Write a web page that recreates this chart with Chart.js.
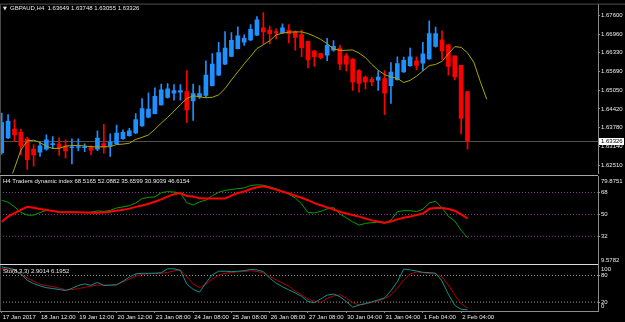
<!DOCTYPE html>
<html>
<head>
<meta charset="utf-8">
<script src="https://cdn.jsdelivr.net/npm/chart.js@4.4.1/dist/chart.umd.min.js"></script>
<style>
  html, body { margin: 0; padding: 0; background: #000; overflow: hidden; }
  #wrap { position: relative; width: 625px; height: 322px; background: #000; }
  canvas { position: absolute; left: 0; }
</style>
</head>
<body>
<div id="wrap">
  <canvas id="priceChart" width="625" height="178" style="top:0px"></canvas>
  <canvas id="tdiChart" width="625" height="100" style="top:170px"></canvas>
  <canvas id="stoChart" width="625" height="63" style="top:259px"></canvas>
</div>
<script>
// ---- data ----
const priceTitle = 'GBPAUD,H4  1.63649 1.63748 1.63055 1.63326';
const tdiTitle = 'H4 Traders dynamic index 68.5165 52.0882 35.6599 30.9039 46.6154';
const stoTitle = 'Sto(8,3,3) 2.9014 6.1952';

const timeLabels = ['17 Jan 2017', '18 Jan 12:00', '19 Jan 12:00', '20 Jan 12:00', '23 Jan 08:00',
  '24 Jan 08:00', '25 Jan 08:00', '26 Jan 08:00', '27 Jan 08:00', '30 Jan 04:00',
  '31 Jan 04:00', '1 Feb 04:00', '2 Feb 04:00'];
const timeLabelBars = [0, 6, 12, 18, 24, 30, 36, 42, 48, 54, 60, 66, 72];

const priceTicks = [1.676, 1.6696, 1.6633, 1.6569, 1.6505, 1.6442, 1.6378, 1.6314, 1.6251];

const open = [1.62937, 1.63438, 1.63733, 1.63625, 1.63405, 1.63055, 1.62947, 1.63055, 1.63209, 1.63232,
  1.63166, 1.63101, 1.63110, 1.63101, 1.63120, 1.63055, 1.63242, 1.63166, 1.63242, 1.63405,
  1.63514, 1.63602, 1.63841, 1.64136, 1.64257, 1.64552, 1.64805, 1.64955, 1.64988, 1.65011,
  1.64693, 1.64824, 1.64880, 1.65208, 1.65568, 1.65939, 1.66201, 1.66463, 1.66682, 1.66758,
  1.66922, 1.67174, 1.67099, 1.67043, 1.67010, 1.67099, 1.67033, 1.66945, 1.66715, 1.66378,
  1.66299, 1.66247, 1.66410, 1.66486, 1.66224, 1.66102, 1.65722, 1.65503, 1.65421, 1.65395,
  1.65447, 1.65208, 1.65414, 1.65676, 1.65886, 1.66050, 1.65971, 1.66116, 1.66542, 1.66758,
  1.66594, 1.66224, 1.65896, 1.65011];
const high = [1.64280, 1.64225, 1.64061, 1.63733, 1.63461, 1.63209, 1.63297, 1.63537, 1.63481, 1.63438,
  1.63373, 1.63405, 1.63405, 1.63232, 1.63166, 1.63677, 1.63897, 1.63569, 1.63874, 1.63710,
  1.63756, 1.64257, 1.64772, 1.64968, 1.65132, 1.65263, 1.65283, 1.65241, 1.65241, 1.65722,
  1.65263, 1.65208, 1.66050, 1.66299, 1.66682, 1.67043, 1.67010, 1.67207, 1.66935, 1.67282,
  1.67557, 1.67688, 1.67230, 1.67141, 1.67305, 1.67282, 1.67066, 1.67099, 1.66715, 1.66410,
  1.66299, 1.66814, 1.66738, 1.66574, 1.66299, 1.66135, 1.65755, 1.65535, 1.65503, 1.65716,
  1.65722, 1.65994, 1.66191, 1.66181, 1.66486, 1.66191, 1.66682, 1.67413, 1.67197, 1.67066,
  1.66594, 1.66224, 1.65896, 1.65011];
const low = [1.62881, 1.63405, 1.63317, 1.62858, 1.62367, 1.62478, 1.62806, 1.63022, 1.63078, 1.62839,
  1.62750, 1.62553, 1.62989, 1.62970, 1.62858, 1.63002, 1.62914, 1.62806, 1.63219, 1.63382,
  1.63494, 1.63579, 1.63822, 1.64117, 1.64248, 1.64542, 1.64782, 1.64716, 1.64716, 1.63953,
  1.64028, 1.64772, 1.64805, 1.65198, 1.65558, 1.65919, 1.66191, 1.66453, 1.66574, 1.66738,
  1.66902, 1.66627, 1.66627, 1.66791, 1.66987, 1.66660, 1.66410, 1.66191, 1.65807, 1.65863,
  1.66116, 1.66060, 1.66378, 1.65755, 1.65699, 1.65044, 1.64988, 1.65100, 1.65208, 1.65044,
  1.64225, 1.64608, 1.65395, 1.65657, 1.65863, 1.65755, 1.65722, 1.66102, 1.66519, 1.66102,
  1.65568, 1.65404, 1.63569, 1.63055];
const close = [1.63953, 1.64005, 1.63537, 1.63166, 1.62694, 1.62858, 1.63166, 1.63373, 1.63242, 1.63101,
  1.62989, 1.63133, 1.63143, 1.63133, 1.63022, 1.63428, 1.63120, 1.63297, 1.63602, 1.63625,
  1.63677, 1.64061, 1.64431, 1.64411, 1.64847, 1.65067, 1.65100, 1.65044, 1.65044, 1.64388,
  1.64936, 1.64936, 1.65568, 1.65939, 1.66332, 1.66486, 1.66748, 1.66902, 1.66814, 1.67118,
  1.67446, 1.67033, 1.66977, 1.67010, 1.67174, 1.66977, 1.66846, 1.66496, 1.66083, 1.66191,
  1.66158, 1.66574, 1.66542, 1.65939, 1.65939, 1.65339, 1.65283, 1.65339, 1.65339, 1.65503,
  1.64955, 1.65667, 1.65961, 1.66070, 1.66191, 1.65896, 1.66289, 1.66977, 1.66977, 1.66387,
  1.65863, 1.65503, 1.64094, 1.63326];

// moving average as drawn (shifted 3 bars forward, so 3 more points)
const maLine = [1.61275, 1.61832, 1.62402, 1.63022, 1.63330, 1.63359, 1.63277, 1.63150, 1.63078, 1.63078,
  1.63153, 1.63176, 1.63182, 1.63159, 1.63137, 1.63133, 1.63133, 1.63137, 1.63209, 1.63225,
  1.63255, 1.63386, 1.63454, 1.63536, 1.63726, 1.63936, 1.64133, 1.64342, 1.64562, 1.64772,
  1.64864, 1.64831, 1.64798, 1.64814, 1.64896, 1.65109, 1.65404, 1.65676, 1.65951, 1.66201,
  1.66469, 1.66600, 1.66731, 1.66931, 1.66990, 1.67026, 1.67033, 1.67033, 1.66977, 1.66885,
  1.66781, 1.66633, 1.66459, 1.66407, 1.66410, 1.66420, 1.66315, 1.66161, 1.65929, 1.65732,
  1.65584, 1.65503, 1.65453, 1.65316, 1.65388, 1.65529, 1.65709, 1.65889, 1.65929, 1.66033,
  1.66289, 1.66532, 1.66509, 1.66322, 1.65997, 1.65352, 1.64749];

const tdiPrice = [61.6, 60.1, 56.3, 51.75, 49.4, 49.4, 51.6, 53.3, 53.0, 51.8,
  51.9, 52.1, 51.75, 51.7, 51.8, 52.9, 52.4, 53.3, 55.25, 56.2,
  57.25, 59.3, 63.1, 64.0, 64.4, 67.9, 68.75, 68.4, 67.6, 59.7,
  57.75, 60.3, 61.75, 65.4, 68.25, 69.7, 70.6, 71.2, 71.8, 73.75,
  74.4, 74.0, 72.75, 71.1, 69.0, 66.5, 63.6, 58.6, 51.5, 51.3,
  52.5, 54.6, 55.7, 50.3, 47.2, 43.9, 41.2, 42.6, 43.25, 43.7,
  42.75, 45.3, 52.25, 53.1, 53.1, 52.3, 54.25, 59.4, 60.9, 55.4,
  48.4, 44.6, 36.9, 30.9039];
const tdiSignal = [44.0, 48.25, 51.1, 53.8, 56.25, 55.4, 54.5, 53.7, 52.75, 52.0,
  51.75, 51.7, 51.7, 51.5, 51.3, 51.4, 51.6, 52.25, 53.0, 53.75,
  54.75, 56.2, 57.4, 58.8, 60.4, 62.4, 64.6, 66.7, 67.5, 65.1,
  64.75, 63.2, 63.0, 63.0, 63.0, 63.1, 65.4, 67.6, 68.9, 70.9,
  72.4, 73.1, 71.9, 70.4, 68.8, 67.25, 65.4, 63.7, 61.7, 59.25,
  57.6, 55.8, 54.1, 52.25, 50.75, 49.5, 48.2, 46.7, 45.1, 44.1,
  43.25, 44.2, 45.9, 47.3, 48.2, 49.5, 50.7, 54.6, 55.3, 55.25,
  54.4, 53.0, 50.1, 46.6154];
const tdiLevels = [68, 50, 32];

const stoMain = [99.3, 96.4, 93.4, 83.0, 69.1, 61.8, 56.4, 52.5, 50.5, 48.4,
  45.9, 50.9, 57.5, 60.9, 57.7, 64.5, 57.5, 58.0, 59.1, 67.0,
  76.1, 83.6, 84.8, 84.8, 85.0, 85.9, 95.0, 94.8, 91.8, 60.5,
  48.6, 42.3, 63.2, 81.6, 89.5, 89.5, 88.6, 89.5, 90.7, 93.4,
  92.5, 88.6, 73.9, 62.7, 54.5, 47.5, 40.7, 33.0, 21.4, 18.9,
  27.3, 35.7, 38.2, 32.3, 21.4, 8.6, 13.2, 16.8, 20.7, 25.0,
  29.3, 45.9, 65.7, 94.5, 92.5, 90.0, 87.0, 86.4, 85.0, 67.5,
  37.7, 12.7, 3.9, 2.9014];
const stoSignal = [95.7, 94.3, 91.6, 83.0, 74.3, 67.0, 59.8, 57.3, 54.8, 51.4,
  47.3, 48.2, 50.2, 53.4, 56.1, 58.4, 58.4, 58.4, 58.4, 65.5,
  71.8, 78.4, 82.5, 83.9, 84.8, 84.8, 86.8, 90.2, 92.3, 77.3,
  60.9, 52.5, 60.7, 71.8, 80.5, 84.5, 87.0, 88.0, 88.9, 90.5,
  89.1, 85.2, 77.7, 70.2, 63.0, 55.9, 44.8, 36.4, 26.6, 22.0,
  19.8, 28.2, 33.9, 36.4, 28.9, 18.9, 13.6, 15.9, 19.3, 22.3,
  28.0, 36.1, 51.6, 70.0, 83.0, 88.0, 86.4, 84.3, 83.2, 76.6,
  58.4, 35.9, 16.8, 6.1952];
const stoLevels = [80, 20];

// ---- styling ----
const FONT = { family: '"Liberation Sans", Arial, sans-serif', size: 6 };
const FONT_CSS = FONT.size + 'px ' + FONT.family;
const TEXT = '#e8e8e8';
const AXIS = '#8c8c8c';
const BULL = '#1e90ff';
const BEAR = '#ff0000';

// visible bar window (bar 0 sits at the left edge)
const X_MIN = -0.27;
const X_MAX = 93.45;

const pts = arr => arr.map((v, i) => ({ x: i, y: v }));
const levelLine = (lv, color) => ({
  type: 'line', data: [{ x: X_MIN, y: lv }, { x: X_MAX, y: lv }],
  borderColor: color, borderWidth: 1, borderDash: [1, 2], pointRadius: 0
});
const candleColor = c => close[c.dataIndex] >= open[c.dataIndex] ? BULL : BEAR;

// panel titles and the max/min labels MT4 writes inside the axis
const panelText = {
  id: 'panelText',
  afterDraw(chart, _args, o) {
    const { ctx, chartArea: a } = chart;
    ctx.save();
    ctx.font = FONT_CSS;
    ctx.fillStyle = TEXT;
    ctx.textBaseline = 'middle';
    ctx.textAlign = 'left';
    if (o.marker) {
      ctx.font = '5px "DejaVu Sans"';
      ctx.fillText('\u25BC', a.left + 3, a.top + o.titleY);
      ctx.font = FONT_CSS;
    }
    if (o.title) ctx.fillText(o.title, a.left + o.titleX, a.top + o.titleY);
    if (o.top) ctx.fillText(o.top, a.right + 3, a.top + o.topY);
    if (o.bottom) ctx.fillText(o.bottom, a.right + 3, a.bottom - o.bottomY);
    ctx.restore();
  }
};

const frame = {
  id: 'frame',
  afterDraw(chart, _args, o) {
    const { ctx, chartArea: a } = chart;
    ctx.save();
    ctx.lineWidth = 1;
    ctx.strokeStyle = o.top;
    ctx.beginPath();
    ctx.moveTo(0, a.top - 0.5);
    ctx.lineTo(o.full ? chart.width : a.right, a.top - 0.5);
    ctx.stroke();
    ctx.strokeStyle = '#4a4a4a';
    ctx.beginPath();
    ctx.moveTo(0.5, a.top);
    ctx.lineTo(0.5, a.bottom);
    ctx.stroke();
    ctx.restore();
  }
};

const lastPrice = {
  id: 'lastPrice',
  beforeDatasetsDraw(chart, _args, o) {
    const { ctx, chartArea: a, scales: { y } } = chart;
    const py = Math.round(y.getPixelForValue(o.value)) + 0.5;
    ctx.save();
    ctx.strokeStyle = '#505050';
    ctx.lineWidth = 1;
    ctx.beginPath();
    ctx.moveTo(a.left, py);
    ctx.lineTo(a.right, py);
    ctx.stroke();
    ctx.restore();
  },
  afterDraw(chart, _args, o) {
    const { ctx, chartArea: a, scales: { y } } = chart;
    const py = Math.round(y.getPixelForValue(o.value));
    ctx.save();
    ctx.fillStyle = '#ffffff';
    ctx.fillRect(a.right + 1, py - 3, 25, 7);
    ctx.fillStyle = '#000000';
    ctx.font = FONT_CSS;
    ctx.textBaseline = 'middle';
    ctx.fillText(o.value.toFixed(5), a.right + 3, py + 0.5);
    ctx.restore();
  }
};

const fixWidth = s => { s.width = 27; };
const yAxisBase = {
  position: 'right',
  afterFit: fixWidth,
  border: { color: AXIS },
  grid: { drawOnChartArea: false, tickLength: 2, color: AXIS },
  ticks: { font: FONT, color: TEXT, padding: 1, autoSkip: false }
};
const xHidden = { type: 'linear', min: X_MIN, max: X_MAX, offset: false, display: false };
const common = {
  responsive: false,
  animation: false,
  devicePixelRatio: 1,
  events: []
};

// ---- main price panel ----
new Chart(document.getElementById('priceChart'), {
  type: 'bar',
  plugins: [lastPrice, frame, panelText],
  data: {
    datasets: [
      { type: 'line', data: pts(maLine), borderColor: '#a8a800', borderWidth: 1, pointRadius: 0, tension: 0 },
      { data: open.map((o, i) => ({ x: i, y: [o, close[i]] })), backgroundColor: candleColor,
        barThickness: 4, grouped: false, minBarLength: 1 },
      { data: low.map((l, i) => ({ x: i, y: [l, high[i]] })), backgroundColor: candleColor,
        barThickness: 1, grouped: false }
    ]
  },
  options: {
    ...common,
    layout: { padding: { top: 1, bottom: 2, left: 0, right: 0 } },
    plugins: {
      legend: { display: false }, tooltip: { enabled: false },
      lastPrice: { value: close[close.length - 1] },
      frame: { top: '#505050', full: true },
      panelText: { title: priceTitle, titleX: 10, titleY: 4, marker: true }
    },
    scales: {
      x: xHidden,
      y: {
        ...yAxisBase, min: 1.6223, max: 1.6796,
        afterBuildTicks: s => { s.ticks = priceTicks.map(v => ({ value: v })); },
        ticks: { ...yAxisBase.ticks, callback: v => v.toFixed(5) }
      }
    }
  }
});

// ---- Traders dynamic index panel ----
new Chart(document.getElementById('tdiChart'), {
  type: 'line',
  plugins: [frame, panelText],
  data: {
    datasets: [
      { data: pts(tdiSignal), borderColor: '#ff0000', borderWidth: 2, pointRadius: 0, tension: 0 },
      { data: pts(tdiPrice), borderColor: '#00a000', borderWidth: 1, pointRadius: 0, tension: 0 },
      ...tdiLevels.map(lv => levelLine(lv, '#8a3a9a'))
    ]
  },
  options: {
    ...common,
    layout: { padding: { top: 6, bottom: 5, left: 0, right: 0 } },
    plugins: {
      legend: { display: false }, tooltip: { enabled: false },
      frame: { top: '#a8a8a8' },
      panelText: { title: tdiTitle, titleX: 3, titleY: 5.5, top: '79.8751', topY: 5, bottom: '9.5782', bottomY: 4.5 }
    },
    scales: {
      x: xHidden,
      y: {
        ...yAxisBase, min: 8.4, max: 81.6,
        afterBuildTicks: s => { s.ticks = tdiLevels.map(v => ({ value: v })); },
        ticks: { ...yAxisBase.ticks, callback: v => String(v) }
      }
    }
  }
});

// ---- Stochastic panel with the time axis ----
new Chart(document.getElementById('stoChart'), {
  type: 'line',
  plugins: [frame, panelText],
  data: {
    datasets: [
      { data: pts(stoMain), borderColor: '#109090', borderWidth: 1, pointRadius: 0, tension: 0 },
      { data: pts(stoSignal), borderColor: '#b00000', borderWidth: 1, pointRadius: 0, tension: 0 },
      ...stoLevels.map(lv => levelLine(lv, '#9a9a9a'))
    ]
  },
  options: {
    ...common,
    layout: { padding: { top: 6, bottom: 0, left: 0, right: 0 } },
    plugins: {
      legend: { display: false }, tooltip: { enabled: false },
      frame: { top: '#dcdcdc' },
      panelText: { title: stoTitle, titleX: 3, titleY: 6, top: '100', topY: 4.5, bottom: '0', bottomY: 5 }
    },
    scales: {
      x: {
        type: 'linear', min: X_MIN, max: X_MAX, offset: false, position: 'bottom',
        afterFit: s => { s.height = 11; },
        afterBuildTicks: s => { s.ticks = timeLabelBars.map(v => ({ value: v })); },
        border: { color: AXIS },
        grid: { drawOnChartArea: false, tickLength: 2, color: AXIS },
        ticks: { font: FONT, color: TEXT, padding: 1, align: 'start', labelOffset: 1,
          maxRotation: 0, autoSkip: false, callback: (v, i) => timeLabels[i] }
      },
      y: {
        ...yAxisBase, min: 0, max: 103.5,
        afterBuildTicks: s => { s.ticks = stoLevels.map(v => ({ value: v })); },
        ticks: { ...yAxisBase.ticks, callback: v => String(v) }
      }
    }
  }
});
</script>
</body>
</html>
